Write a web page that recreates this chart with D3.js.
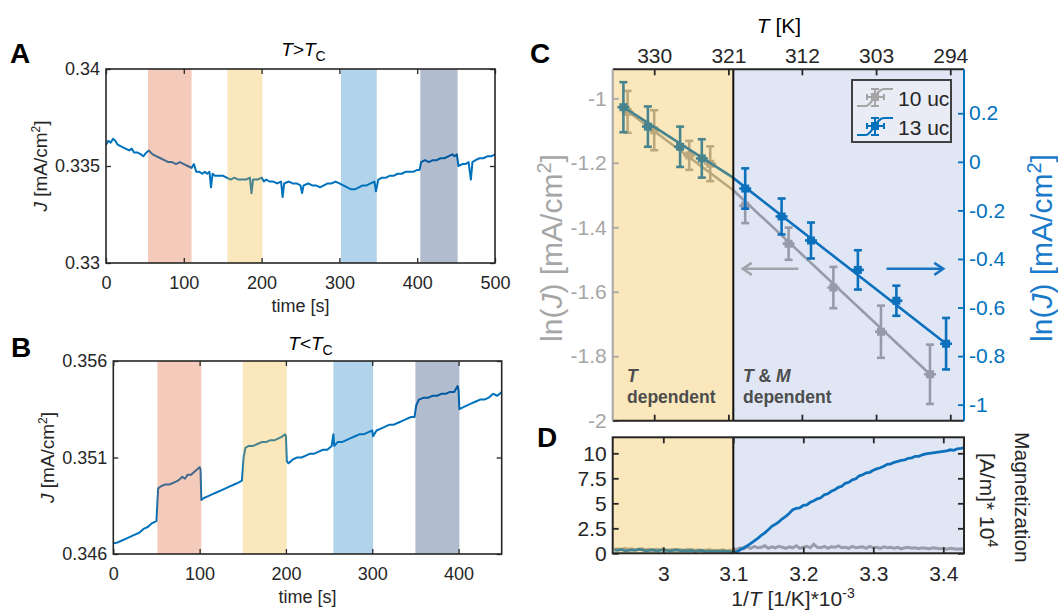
<!DOCTYPE html>
<html><head><meta charset="utf-8">
<script src="https://cdn.jsdelivr.net/npm/d3@7"></script>
<style>body{margin:0;background:#fff}svg{display:block}</style>
</head><body><svg id="fig" width="1058" height="610"></svg>
<script>
// ---------------- DATA ----------------
// Panel A (T > Tc): time [s] and current density J [mA/cm2]
const timeA = [0,3,6,9,12,15,20,25,30,33,36,40,45,48,52,55,60,65,70,75,80,85,90,95,100,105,110,113,116,120,124,127,130,133,135,137,140,145,150,155,160,165,170,175,180,185,187,189,195,200,203,206,210,215,220,225,227,229,235,240,245,250,252,254,260,265,270,275,280,285,290,295,300,305,310,315,320,325,330,335,340,345,347,350,355,360,365,370,375,380,385,390,395,400,403,405,410,415,420,425,430,435,440,445,448,451,453,458,462,466,469,471,475,480,485,490,495,500];
const currentA = [0.3361,0.3363,0.3362,0.3364,0.3363,0.3361,0.3360,0.3359,0.3358,0.3359,0.3357,0.3357,0.3356,0.3355,0.3357,0.3358,0.3356,0.3355,0.3354,0.3353,0.3352,0.3352,0.3351,0.3352,0.3351,0.3350,0.3349,0.3351,0.3347,0.3347,0.3346,0.3347,0.3346,0.3347,0.3339,0.3346,0.3345,0.3345,0.3345,0.3344,0.3343,0.3344,0.3343,0.3343,0.3343,0.3344,0.3336,0.3343,0.3343,0.3344,0.3342,0.3343,0.3342,0.3342,0.3341,0.3342,0.3334,0.3341,0.3342,0.3341,0.3341,0.3340,0.3336,0.3340,0.3341,0.3340,0.3340,0.3339,0.3340,0.3341,0.3341,0.3342,0.3341,0.3340,0.3339,0.3338,0.3338,0.3339,0.3340,0.3340,0.3341,0.3342,0.3337,0.3343,0.3344,0.3344,0.3345,0.3345,0.3346,0.3346,0.3347,0.3347,0.3347,0.3348,0.3348,0.3352,0.3353,0.3352,0.3353,0.3353,0.3354,0.3354,0.3355,0.3356,0.3355,0.3356,0.3350,0.3351,0.3351,0.3352,0.3343,0.3352,0.3353,0.3354,0.3354,0.3355,0.3355,0.3356];
const bandsA = [[54,110],[156,201],[302,348],[404,452]];

// Panel B (T < Tc)
const timeB = [0,5,10,15,20,25,30,35,40,45,50,51,52,55,60,65,70,75,80,83,86,90,95,100,101,102,105,110,115,120,125,130,135,140,145,149,151,153,157,162,167,172,177,182,187,192,196,199,200,201,203,208,213,218,223,228,233,238,243,248,253,255,256,260,265,270,275,280,285,290,295,300,301,305,310,315,320,325,330,335,340,345,349,351,354,360,365,370,375,380,385,390,395,399,400,401,405,410,415,420,425,430,435,440,445,450];
const currentB = [0.34655,0.3466,0.3467,0.3468,0.3469,0.3470,0.3471,0.3473,0.3474,0.3476,0.3477,0.3486,0.3494,0.3495,0.3496,0.3496,0.3497,0.3498,0.3500,0.3499,0.3501,0.3501,0.3503,0.3505,0.3504,0.3488,0.3489,0.3490,0.3491,0.3492,0.3493,0.3494,0.3495,0.3496,0.3497,0.3498,0.3510,0.3515,0.3516,0.3516,0.3517,0.3518,0.3518,0.3519,0.3519,0.3520,0.3521,0.3522,0.3521,0.3508,0.3507,0.3509,0.3510,0.3510,0.3511,0.3512,0.3512,0.3513,0.3514,0.3514,0.3516,0.3522,0.3516,0.3518,0.3518,0.3519,0.3520,0.3521,0.3522,0.3522,0.3523,0.3524,0.3521,0.3524,0.3525,0.3526,0.3527,0.3527,0.3528,0.3529,0.3530,0.3531,0.3531,0.3537,0.3540,0.3541,0.3541,0.3542,0.3542,0.3543,0.3543,0.3544,0.3544,0.3547,0.3545,0.3535,0.3536,0.3537,0.3538,0.3539,0.3540,0.3540,0.3541,0.3543,0.3542,0.3544];
const bandsB = [[51,102],[150,201],[255,301],[350,401]];
const bandColors = ["#D95319","#EDB120","#0072BD","#00205F"];

// Panel C: ln(J) vs 1/T
const invT_10uc = [2.949,2.987,3.037,3.067,3.117,3.179,3.243,3.311,3.381];
const lnJ_10uc  = [-1.042,-1.099,-1.177,-1.203,-1.333,-1.451,-1.587,-1.724,-1.856];
const err_10uc  = [0.065,0.062,0.045,0.054,0.054,0.050,0.064,0.081,0.092];
const invT_13uc = [2.943,2.978,3.024,3.055,3.117,3.169,3.211,3.278,3.333,3.404];
const lnJ_13uc  = [0.225,0.145,0.062,0.014,-0.110,-0.225,-0.324,-0.445,-0.572,-0.749];
const err_13uc  = [0.103,0.083,0.083,0.079,0.083,0.074,0.074,0.081,0.062,0.106];
const fit_10uc_x = [2.949,3.100,3.381];
const fit_10uc_y = [-1.040,-1.285,-1.856];
const fit_13uc_x = [2.943,3.098,3.404];
const fit_13uc_y = [0.225,-0.062,-0.749];
const leftTicksC = [-2,-1.8,-1.6,-1.4,-1.2,-1];
const leftLabelsC = ["-2","-1.8","-1.6","-1.4","-1.2","-1"];
const rightTicksC = [-1,-0.8,-0.6,-0.4,-0.2,0,0.2];
const rightLabelsC = ["-1","-0.8","-0.6","-0.4","-0.2","0","0.2"];
const topTickPos = [2.987,3.093,3.198,3.304,3.410];
const topTickLabels = ["330","321","312","303","294"];
const Tc_invT = 3.1;

// Panel D: magnetization vs 1/T
const magX = [2.930,2.935,2.940,2.945,2.950,2.955,2.960,2.965,2.970,2.975,
2.980,2.985,2.990,2.995,3.000,3.005,3.010,3.015,3.020,3.025,
3.030,3.035,3.040,3.045,3.050,3.055,3.060,3.065,3.070,3.075,
3.080,3.085,3.090,3.095,3.100,3.105,3.110,3.115,3.120,3.125,
3.130,3.135,3.140,3.145,3.150,3.155,3.160,3.165,3.170,3.175,
3.180,3.185,3.190,3.195,3.200,3.205,3.210,3.215,3.220,3.225,
3.230,3.235,3.240,3.245,3.250,3.255,3.260,3.265,3.270,3.275,
3.280,3.285,3.290,3.295,3.300,3.305,3.310,3.315,3.320,3.325,
3.330,3.335,3.340,3.345,3.350,3.355,3.360,3.365,3.370,3.375,
3.380,3.385,3.390,3.395,3.400,3.405,3.410,3.415,3.420,3.425,3.429];
const mag_13uc = [0.35,0.30,0.40,0.25,0.30,0.35,0.30,0.40,0.35,0.25,
0.30,0.35,0.25,0.30,0.35,0.30,0.25,0.30,0.35,0.25,
0.30,0.25,0.30,0.20,0.25,0.30,0.20,0.25,0.20,0.25,
0.20,0.25,0.20,0.20,0.05,0.15,0.35,0.55,0.75,1.00,
1.25,1.50,1.80,2.05,2.35,2.70,2.90,3.15,3.45,3.70,
4.00,4.35,4.50,4.55,4.80,4.85,5.10,5.25,5.45,5.55,
5.85,5.95,6.20,6.35,6.60,6.70,7.00,7.10,7.35,7.45,
7.75,7.85,8.05,8.10,8.30,8.45,8.55,8.70,8.90,8.95,
9.10,9.20,9.30,9.35,9.50,9.55,9.70,9.70,9.85,9.95,
10.00,10.05,10.10,10.15,10.20,10.25,10.35,10.30,10.45,10.50,10.55];
const mag_10uc = [0.40,0.45,0.35,0.50,0.40,0.45,0.35,0.40,0.45,0.35,
0.40,0.30,0.40,0.35,0.45,0.30,0.35,0.40,0.30,0.35,
0.30,0.40,0.35,0.30,0.35,0.25,0.30,0.35,0.30,0.25,
0.30,0.35,0.25,0.30,0.30,0.40,0.55,0.45,0.65,0.50,
0.70,0.55,0.60,0.75,0.50,0.65,0.55,0.70,0.60,0.50,
0.65,0.55,0.75,0.50,0.60,0.70,0.55,0.90,0.60,0.55,
0.70,0.50,0.65,0.60,0.75,0.55,0.60,0.50,0.70,0.55,
0.60,0.65,0.50,0.70,0.55,0.60,0.50,0.65,0.55,0.60,
0.50,0.60,0.45,0.55,0.60,0.50,0.55,0.45,0.55,0.50,
0.45,0.55,0.50,0.45,0.50,0.40,0.50,0.45,0.40,0.45,0.40];
const magTicks = [0,2.5,5,7.5,10];
const magLabels = ["0","2.5","5","7.5","10"];
const invTTicks = [3,3.1,3.2,3.3,3.4];
const invTLabels = ["3","3.1","3.2","3.3","3.4"];

// ---------------- DRAWING ----------------
const FONT = "'Liberation Sans', Arial, Helvetica, sans-serif";
const DARK = "#262626";
const BLUE = "#0072BD";
const GRAY = "#A6A6A6";
const svg = d3.select("#fig").attr("font-family", FONT);
svg.append("rect").attr("width",1058).attr("height",610).attr("fill","#fff");

function styleAxis(sel, color, size, sw) {
  sel.select(".domain").remove();
  sel.selectAll("line").attr("stroke", color).attr("stroke-width", sw);
  sel.selectAll("text").attr("fill", color).attr("font-size", size).attr("font-family", FONT);
}

function timePanel(cfg) {
  const x = d3.scaleLinear().domain(cfg.xDomain).range([cfg.x0, cfg.x1]);
  const y = d3.scaleLinear().domain(cfg.yDomain).range([cfg.y1, cfg.y0]);
  const g = svg.append("g");
  const line = d3.line().x(d => x(d[0])).y(d => y(d[1]));
  g.append("path").datum(d3.zip(cfg.t, cfg.j)).attr("d", line)
    .attr("fill","none").attr("stroke",BLUE).attr("stroke-width",2).attr("stroke-linejoin","round");
  g.selectAll("rect.band").data(cfg.bands).join("rect").attr("class","band")
    .attr("x", d => x(d[0])).attr("width", d => x(d[1]) - x(d[0]))
    .attr("y", cfg.y0).attr("height", cfg.y1 - cfg.y0)
    .attr("fill", (d,i) => bandColors[i]).attr("fill-opacity", 0.3);
  g.append("g").attr("transform",`translate(0,${cfg.y1})`)
    .call(d3.axisBottom(x).tickValues(cfg.xTicks).tickSize(-5).tickPadding(13).tickFormat(d3.format("d")))
    .call(s => styleAxis(s, DARK, 18, 1.3));
  g.append("g").attr("transform",`translate(0,${cfg.y0})`)
    .call(d3.axisTop(x).tickValues(cfg.xTicks).tickSize(-5).tickFormat(""))
    .call(s => styleAxis(s, DARK, 18, 1.3));
  g.append("g").attr("transform",`translate(${cfg.x0},0)`)
    .call(d3.axisLeft(y).tickValues(cfg.yTicks).tickSize(-5).tickPadding(6).tickFormat(d => String(d)))
    .call(s => styleAxis(s, DARK, 18, 1.3));
  g.append("g").attr("transform",`translate(${cfg.x1},0)`)
    .call(d3.axisRight(y).tickValues(cfg.yTicks).tickSize(-5).tickFormat(""))
    .call(s => styleAxis(s, DARK, 18, 1.3));
  g.append("rect").attr("x",cfg.x0).attr("y",cfg.y0).attr("width",cfg.x1-cfg.x0).attr("height",cfg.y1-cfg.y0)
    .attr("fill","none").attr("stroke",DARK).attr("stroke-width",1.6);
  g.append("text").attr("x",(cfg.x0+cfg.x1)/2).attr("y",cfg.xLabelY).attr("text-anchor","middle")
    .attr("font-size",18).attr("fill",DARK).text("time [s]");
  const yl = g.append("text").attr("transform",`translate(${cfg.yLabelX},${(cfg.y0+cfg.y1)/2}) rotate(-90)`)
    .attr("text-anchor","middle").attr("font-size",19).attr("fill",DARK);
  yl.append("tspan").attr("font-style","italic").text("J");
  yl.append("tspan").text(" [mA/cm");
  yl.append("tspan").attr("font-size",12).attr("dy",-7).text("2");
  yl.append("tspan").attr("dy",7).text("]");
  const tt = g.append("text").attr("x",(cfg.x0+cfg.x1)/2+3).attr("y",cfg.titleY).attr("text-anchor","middle")
    .attr("font-size",19).attr("fill","#000");
  tt.append("tspan").attr("font-style","italic").text("T");
  tt.append("tspan").text(cfg.rel);
  tt.append("tspan").attr("font-style","italic").text("T");
  tt.append("tspan").attr("font-size",14).attr("dy",5).text("C");
  g.append("text").attr("x",cfg.letterX).attr("y",cfg.letterY).attr("font-size",28).attr("font-weight","bold")
    .attr("fill","#000").text(cfg.letter);
}

timePanel({x0:106,x1:495,y0:69,y1:263,xDomain:[0,500],yDomain:[0.33,0.34],
  xTicks:[0,100,200,300,400,500],yTicks:[0.33,0.335,0.34],t:timeA,j:currentA,bands:bandsA,
  xLabelY:312,yLabelX:47,titleY:56,rel:">",letter:"A",letterX:10,letterY:63});
timePanel({x0:113.3,x1:501.7,y0:361,y1:554,xDomain:[0,450],yDomain:[0.346,0.356],
  xTicks:[0,100,200,300,400],yTicks:[0.346,0.351,0.356],t:timeB,j:currentB,bands:bandsB,
  xLabelY:603,yLabelX:54,titleY:350,rel:"<",letter:"B",letterX:11,letterY:357});

// ---------- Panel C ----------
const cx0 = 612.7, cx1 = 964, cy0 = 69.3, cy1 = 420.7;
const xs = d3.scaleLinear().domain([2.9277, 3.4296]).range([cx0, cx1]);
const yL = d3.scaleLinear().domain([-2, -0.910]).range([cy1, cy0]);
const yR = d3.scaleLinear().domain([-1.066, 0.381]).range([cy1, cy0]);
const gC = svg.append("g");

function series(g, xv, yv, ev, fx, fy, yScale, color) {
  const ln = d3.line().x(d => xs(d[0])).y(d => yScale(d[1]));
  g.append("path").datum(d3.zip(fx, fy)).attr("d", ln).attr("fill","none")
    .attr("stroke",color).attr("stroke-width",2.6);
  const pts = d3.zip(xv, yv, ev);
  const pg = g.selectAll(null).data(pts).join("g").attr("stroke",color).attr("stroke-width",2.6);
  pg.append("line").attr("x1",d=>xs(d[0])).attr("x2",d=>xs(d[0])).attr("y1",d=>yScale(d[1]-d[2])).attr("y2",d=>yScale(d[1]+d[2]));
  pg.append("line").attr("x1",d=>xs(d[0])-4).attr("x2",d=>xs(d[0])+4).attr("y1",d=>yScale(d[1]-d[2])).attr("y2",d=>yScale(d[1]-d[2]));
  pg.append("line").attr("x1",d=>xs(d[0])-4).attr("x2",d=>xs(d[0])+4).attr("y1",d=>yScale(d[1]+d[2])).attr("y2",d=>yScale(d[1]+d[2]));
  pg.append("line").attr("x1",d=>xs(d[0])-6).attr("x2",d=>xs(d[0])+6).attr("y1",d=>yScale(d[1])).attr("y2",d=>yScale(d[1]));
  pg.append("rect").attr("x",d=>xs(d[0])-4).attr("y",d=>yScale(d[1])-4).attr("width",8).attr("height",8)
    .attr("fill",color).attr("stroke","none");
}
series(gC, invT_10uc, lnJ_10uc, err_10uc, fit_10uc_x, fit_10uc_y, yL, "#A5A5A5");
series(gC, invT_13uc, lnJ_13uc, err_13uc, fit_13uc_x, fit_13uc_y, yR, BLUE);

gC.append("rect").attr("x",cx0).attr("y",cy0).attr("width",xs(Tc_invT)-cx0).attr("height",cy1-cy0)
  .attr("fill","#EDB120").attr("fill-opacity",0.3);
gC.append("rect").attr("x",xs(Tc_invT)).attr("y",cy0).attr("width",cx1-xs(Tc_invT)).attr("height",cy1-cy0)
  .attr("fill","#486BBE").attr("fill-opacity",0.17);
gC.append("line").attr("x1",xs(Tc_invT)).attr("x2",xs(Tc_invT)).attr("y1",cy0).attr("y2",cy1)
  .attr("stroke","#111").attr("stroke-width",2);

function arrow(g, xa, xb, yv, color) {
  const X1 = xs(xa), X2 = xs(xb), Y = yL(yv), dir = Math.sign(X2 - X1);
  g.append("line").attr("x1",X1).attr("x2",X2).attr("y1",Y).attr("y2",Y).attr("stroke",color).attr("stroke-width",2.5);
  g.append("path").attr("d",`M${X2-dir*9},${Y-6}L${X2},${Y}L${X2-dir*9},${Y+6}`)
    .attr("fill","none").attr("stroke",color).attr("stroke-width",2.5);
}
arrow(gC, 3.193, 3.1135, -1.529, "#A0A3AA");
arrow(gC, 3.319, 3.400, -1.529, "#1A74C2");

const rt1 = gC.append("text").attr("x",627).attr("y",382).attr("font-size",17.5).attr("font-weight","bold").attr("fill","#4D4D4D");
rt1.append("tspan").attr("font-style","italic").text("T");
gC.append("text").attr("x",627).attr("y",403).attr("font-size",17.5).attr("font-weight","bold").attr("fill","#4D4D4D").text("dependent");
const rt2 = gC.append("text").attr("x",743).attr("y",382).attr("font-size",17.5).attr("font-weight","bold").attr("fill","#4D4D4D");
rt2.append("tspan").attr("font-style","italic").text("T");
rt2.append("tspan").text(" & ");
rt2.append("tspan").attr("font-style","italic").text("M");
gC.append("text").attr("x",743).attr("y",403).attr("font-size",17.5).attr("font-weight","bold").attr("fill","#4D4D4D").text("dependent");

gC.append("g").attr("transform",`translate(${cx0},0)`)
  .call(d3.axisLeft(yL).tickValues(leftTicksC).tickSize(-6).tickPadding(6).tickFormat((d,i)=>leftLabelsC[i]))
  .call(s => styleAxis(s, GRAY, 21, 1.8));
gC.append("g").attr("transform",`translate(${cx1},0)`)
  .call(d3.axisRight(yR).tickValues(rightTicksC).tickSize(-6).tickPadding(5).tickFormat((d,i)=>rightLabelsC[i]))
  .call(s => styleAxis(s, BLUE, 21, 1.8));
gC.append("g").attr("transform",`translate(0,${cy0})`)
  .call(d3.axisTop(xs).tickValues(topTickPos).tickSize(-6).tickPadding(6).tickFormat((d,i)=>topTickLabels[i]))
  .call(s => styleAxis(s, DARK, 21, 1.8));
gC.append("g").attr("transform",`translate(0,${cy1})`)
  .call(d3.axisBottom(xs).tickValues(topTickPos).tickSize(-6).tickFormat(""))
  .call(s => styleAxis(s, DARK, 21, 1.8));
gC.append("line").attr("x1",cx0).attr("x2",cx1).attr("y1",cy0).attr("y2",cy0).attr("stroke",DARK).attr("stroke-width",2);
gC.append("line").attr("x1",cx0).attr("x2",cx1).attr("y1",cy1).attr("y2",cy1).attr("stroke",DARK).attr("stroke-width",2);
gC.append("line").attr("x1",cx0).attr("x2",cx0).attr("y1",cy0).attr("y2",cy1).attr("stroke",GRAY).attr("stroke-width",2);
gC.append("line").attr("x1",cx1).attr("x2",cx1).attr("y1",cy0).attr("y2",cy1).attr("stroke",BLUE).attr("stroke-width",2);

const tk = gC.append("text").attr("x",779).attr("y",33).attr("text-anchor","middle").attr("font-size",21).attr("fill","#000");
tk.append("tspan").attr("font-style","italic").text("T");
tk.append("tspan").text(" [K]");
function lnLabel(xb, color) {
  const t = gC.append("text").attr("transform",`translate(${xb},${248}) rotate(-90)`)
    .attr("text-anchor","middle").attr("font-size",30).attr("fill",color);
  t.append("tspan").text("ln(");
  t.append("tspan").attr("font-style","italic").text("J");
  t.append("tspan").text(") [mA/cm");
  t.append("tspan").attr("font-size",20).attr("dy",-11).text("2");
  t.append("tspan").attr("dy",11).text("]");
}
lnLabel(562, GRAY);
lnLabel(1052, "#1A7BCB");

const lg = gC.append("g");
lg.append("rect").attr("x",852).attr("y",80).attr("width",99).attr("height",62)
  .attr("fill","#E9ECF5").attr("stroke","#404040").attr("stroke-width",2);
[["10 uc","#A5A5A5",97,106],["13 uc",BLUE,126,135]].forEach(([lab,col,cy,by]) => {
  const ig = lg.append("g").attr("stroke",col).attr("stroke-width",2).attr("fill","none");
  ig.append("path").attr("d",`M857,${cy+9}L866,${cy+9}C872,${cy+9} 876,${cy-8} 884,${cy-8}L893,${cy-8}`);
  ig.append("path").attr("d",`M875,${cy-8}V${cy+9}M871,${cy-8}H879M871,${cy+9}H879M867,${cy}H884M867,${cy-3}V${cy+3}M884,${cy-3}V${cy+3}`);
  ig.append("rect").attr("x",872).attr("y",cy-3).attr("width",6).attr("height",6).attr("fill",col);
  lg.append("text").attr("x",898).attr("y",by).attr("font-size",21).attr("fill",DARK).text(lab);
});
svg.append("text").attr("x",530).attr("y",63).attr("font-size",28).attr("font-weight","bold").text("C");

// ---------- Panel D ----------
const dy0 = 437.3, dy1 = 553.3;
const yD = d3.scaleLinear().domain([0, 11.6]).range([dy1, dy0]);
const gD = svg.append("g");
const clip = svg.append("clipPath").attr("id","clipD");
clip.append("rect").attr("x",cx0).attr("y",dy0).attr("width",cx1-cx0).attr("height",dy1-dy0);
const lnD = d3.line().x(d => xs(d[0])).y(d => yD(d[1]));
gD.append("path").datum(d3.zip(magX, mag_10uc)).attr("d",lnD).attr("clip-path","url(#clipD)")
  .attr("fill","none").attr("stroke","#A8A8A8").attr("stroke-width",3);
gD.append("path").datum(d3.zip(magX, mag_13uc)).attr("d",lnD).attr("clip-path","url(#clipD)")
  .attr("fill","none").attr("stroke",BLUE).attr("stroke-width",2.8);
gD.append("rect").attr("x",cx0).attr("y",dy0).attr("width",xs(Tc_invT)-cx0).attr("height",dy1-dy0)
  .attr("fill","#EDB120").attr("fill-opacity",0.3);
gD.append("rect").attr("x",xs(Tc_invT)).attr("y",dy0).attr("width",cx1-xs(Tc_invT)).attr("height",dy1-dy0)
  .attr("fill","#486BBE").attr("fill-opacity",0.17);
gD.append("line").attr("x1",xs(Tc_invT)).attr("x2",xs(Tc_invT)).attr("y1",dy0).attr("y2",dy1)
  .attr("stroke","#111").attr("stroke-width",2);
gD.append("g").attr("transform",`translate(${cx0},0)`)
  .call(d3.axisLeft(yD).tickValues(magTicks).tickSize(-6).tickPadding(6).tickFormat((d,i)=>magLabels[i]))
  .call(s => styleAxis(s, DARK, 21, 1.8));
gD.append("g").attr("transform",`translate(${cx1},0)`)
  .call(d3.axisRight(yD).tickValues(magTicks).tickSize(-6).tickFormat(""))
  .call(s => styleAxis(s, DARK, 21, 1.8));
gD.append("g").attr("transform",`translate(0,${dy1})`)
  .call(d3.axisBottom(xs).tickValues(invTTicks).tickSize(-6).tickPadding(13).tickFormat((d,i)=>invTLabels[i]))
  .call(s => styleAxis(s, DARK, 21, 1.8));
gD.append("g").attr("transform",`translate(0,${dy0})`)
  .call(d3.axisTop(xs).tickValues(invTTicks).tickSize(-6).tickFormat(""))
  .call(s => styleAxis(s, DARK, 21, 1.8));
gD.append("rect").attr("x",cx0).attr("y",dy0).attr("width",cx1-cx0).attr("height",dy1-dy0)
  .attr("fill","none").attr("stroke",DARK).attr("stroke-width",2);
const xl = gD.append("text").attr("x",793).attr("y",606).attr("text-anchor","middle").attr("font-size",21).attr("fill",DARK);
xl.append("tspan").text("1/");
xl.append("tspan").attr("font-style","italic").text("T");
xl.append("tspan").text(" [1/K]*10");
xl.append("tspan").attr("font-size",14).attr("dy",-8).text("-3");
gD.append("text").attr("transform","translate(1015,432) rotate(90)").attr("font-size",21).attr("fill",DARK).text("Magnetization");
const m2 = gD.append("text").attr("transform","translate(980,453) rotate(90)").attr("font-size",21).attr("fill",DARK);
m2.append("tspan").text("[A/m]* 10");
m2.append("tspan").attr("font-size",14).attr("dy",-8).text("4");
svg.append("text").attr("x",537).attr("y",447).attr("font-size",28).attr("font-weight","bold").text("D");
</script></body></html>
